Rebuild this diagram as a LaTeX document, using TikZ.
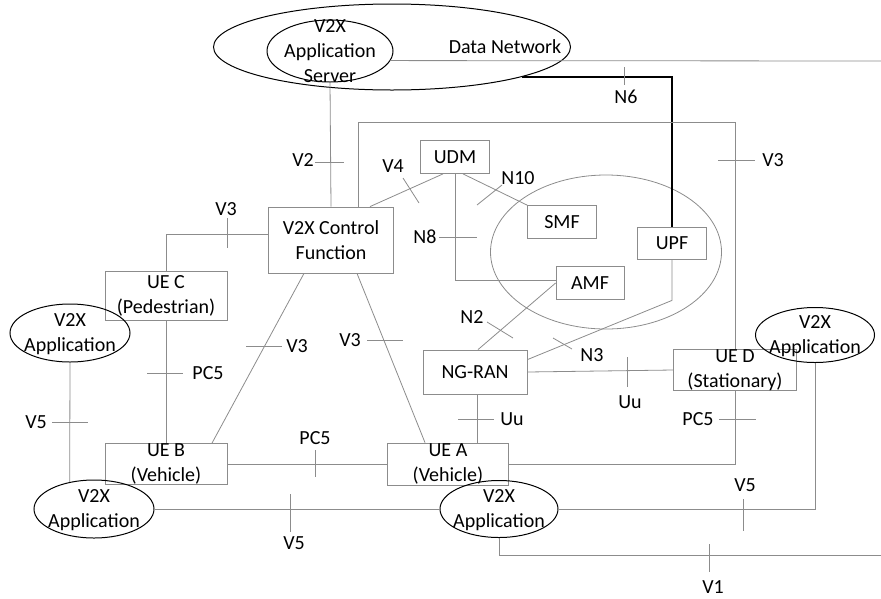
\documentclass[tikz,border=0pt]{standalone}
\usepackage{fontspec}
\setmainfont{Carlito}
\usetikzlibrary{shapes.geometric}
\definecolor{linegray}{RGB}{140,140,140}
\newcommand{\txtsz}{\fontsize{20}{25}\selectfont}

\begin{document}
\begin{tikzpicture}[x=1pt, y=-1pt,
    netbox/.style={draw=linegray, line width=.8pt, inner sep=0pt, align=center, font=\txtsz},
    appell/.style={ellipse, draw=black, line width=1pt, inner sep=0pt, minimum width=120pt, minimum height=58pt},
    apptxt/.style={align=center, inner sep=0pt, font=\txtsz},
    link/.style={draw=linegray, line width=.8pt},
    ifmark/.style={draw=linegray, line width=.8pt},
    lbl/.style={inner sep=0pt, font=\txtsz}]
    \useasboundingbox (0,0) rectangle (881,598);

    % data network and server
    \node[ellipse, draw, line width=1pt, minimum width=357pt, minimum height=86pt] (dn) at (392,47) {};
    \node[ellipse, draw, line width=1pt, minimum width=126pt, minimum height=62pt] (as) at (330,51) {};
    \node[apptxt] (astxt) at (as) {V2X\\Application\\Server};
    \node[lbl] (dntxt) at (505,47) {Data Network};
    \coordinate (dnend) at (881,61);
    \coordinate (v1end) at (881,555);

    % core network
    \node[ellipse, draw=linegray, line width=.8pt, minimum width=231pt, minimum height=154pt] (core) at (606,252) {};
    \node[netbox, minimum width=125pt, minimum height=66pt] (v2xcf) at (331,240) {V2X Control\\Function};
    \node[netbox, minimum width=69pt, minimum height=33pt] (udm) at (455,157) {UDM};
    \node[netbox, minimum width=69pt, minimum height=33pt] (smf) at (562,222) {SMF};
    \node[netbox, minimum width=69pt, minimum height=32pt] (upf) at (672,243) {UPF};
    \node[netbox, minimum width=68pt, minimum height=33pt] (amf) at (590,283) {AMF};
    \node[netbox, minimum width=104pt, minimum height=44pt] (ngran) at (475,372) {NG-RAN};

    % user equipment
    \node[netbox, minimum width=122pt, minimum height=49pt] (ueC) at (166,296) {UE C\\(Pedestrian)};
    \node[netbox, minimum width=122pt, minimum height=41pt] (ueB) at (166,464) {UE B\\(Vehicle)};
    \node[netbox, minimum width=121pt, minimum height=42pt] (ueA) at (448,464) {UE A\\(Vehicle)};
    \node[netbox, minimum width=123pt, minimum height=41pt] (ueD) at (735,370) {UE D\\(Stationary)};

    % applications
    \node[appell] (appC) at (70,333) {};
    \node[appell] (appB) at (94,509) {};
    \node[appell, minimum width=118pt, minimum height=57pt] (appA) at (499,509) {};
    \node[appell, minimum width=119pt, minimum height=55pt] (appD) at (815,335) {};
    \foreach \a in {appC,appB,appA,appD}
        \node[apptxt] at ([yshift=-1pt]\a) {V2X\\Application};

    % connectors
    \draw[link] (as.south) -- (v2xcf.north);
    \draw[link] (as.-9.5) -- (dnend);
    \draw[black, line width=1.6pt] (dn.-13.2) -| (upf.north);
    \draw[link] ([xshift=27pt]v2xcf.north) -- ++(0,-84) -| (ueD.north);
    \draw[link] ([xshift=-12pt]udm.south) -- ([xshift=39pt]v2xcf.north);
    \draw[link] ([xshift=8pt]udm.south) -- (smf.north west);
    \draw[link] (udm.south) |- ([yshift=3pt]amf.west);
    \draw[link] (amf.west) -- ([xshift=3pt]ngran.north);
    \draw[link] (upf.south) -- ++(0,41) -- ([yshift=-10pt]ngran.north east);
    \draw[link] (ngran.east) -- (ueD.west);
    \draw[link] ([xshift=2pt]ngran.south) -- ([xshift=29pt]ueA.north);
    \draw[link] (ueA.east) -| (ueD.south);
    \draw[link] (ueB.east) -- (ueA.west);
    \draw[link] (ueC.south) -- (ueB.north);
    \draw[link] (ueC.north) |- ([yshift=6pt]v2xcf.west);
    \draw[link] ([xshift=46pt]ueB.north) -- ([xshift=-27pt]v2xcf.south);
    \draw[link] ([xshift=26pt]v2xcf.south) -- ([xshift=-23pt]ueA.north);
    \draw[link] (appC.south) -- (appB.132);
    \draw[link] (appB.east) -- (appA.west);
    \draw[link] (appA.east) -| (appD.south);
    \draw[link] (appA.south) |- (v1end);

    % reference point marks
    \draw[ifmark] (315,162) -- (344,162);
    \draw[ifmark] (403,178) -- (419,203);
    \draw[ifmark] (477,205) -- (502,185);
    \draw[ifmark] (439,237) -- (477,237);
    \draw[ifmark] (718,160) -- (755,160);
    \draw[ifmark] (624,67) -- (624,85);
    \draw[ifmark] (227,218) -- (227,248);
    \draw[ifmark] (147,373) -- (183,373);
    \draw[ifmark] (246,346) -- (282,346);
    \draw[ifmark] (367,340) -- (403,340);
    \draw[ifmark] (487,322) -- (513,338);
    \draw[ifmark] (553,338) -- (572,349);
    \draw[ifmark] (627,357) -- (627,387);
    \draw[ifmark] (458,419) -- (494,419);
    \draw[ifmark] (719,419) -- (756,419);
    \draw[ifmark] (315,450) -- (315,477);
    \draw[ifmark] (52,422) -- (88,422);
    \draw[ifmark] (290,494) -- (290,532);
    \draw[ifmark] (743,499) -- (743,531);
    \draw[ifmark] (709,544) -- (709,572);

    % reference point labels
    \node[lbl] (lV2) at (303,160) {V2};
    \node[lbl] (lV4) at (393,166) {V4};
    \node[lbl] (lN10) at (518,178) {N10};
    \node[lbl] (lN8) at (425,237) {N8};
    \node[lbl] (lV3a) at (773,160) {V3};
    \node[lbl] (lN6) at (626,97) {N6};
    \node[lbl] (lV3b) at (226,209) {V3};
    \node[lbl] (lPC5a) at (208,373) {PC5};
    \node[lbl] (lV3c) at (297,346) {V3};
    \node[lbl] (lV3d) at (350,340) {V3};
    \node[lbl] (lN2) at (472,317) {N2};
    \node[lbl] (lN3) at (592,355) {N3};
    \node[lbl] (lUua) at (630,402) {Uu};
    \node[lbl] (lUub) at (512,419) {Uu};
    \node[lbl] (lPC5b) at (698,419) {PC5};
    \node[lbl] (lPC5c) at (315,438) {PC5};
    \node[lbl] (lV5a) at (36,422) {V5};
    \node[lbl] (lV5b) at (294,543) {V5};
    \node[lbl] (lV5c) at (745,485) {V5};
    \node[lbl] (lV1) at (713,587) {V1};
\end{tikzpicture}
\end{document}
